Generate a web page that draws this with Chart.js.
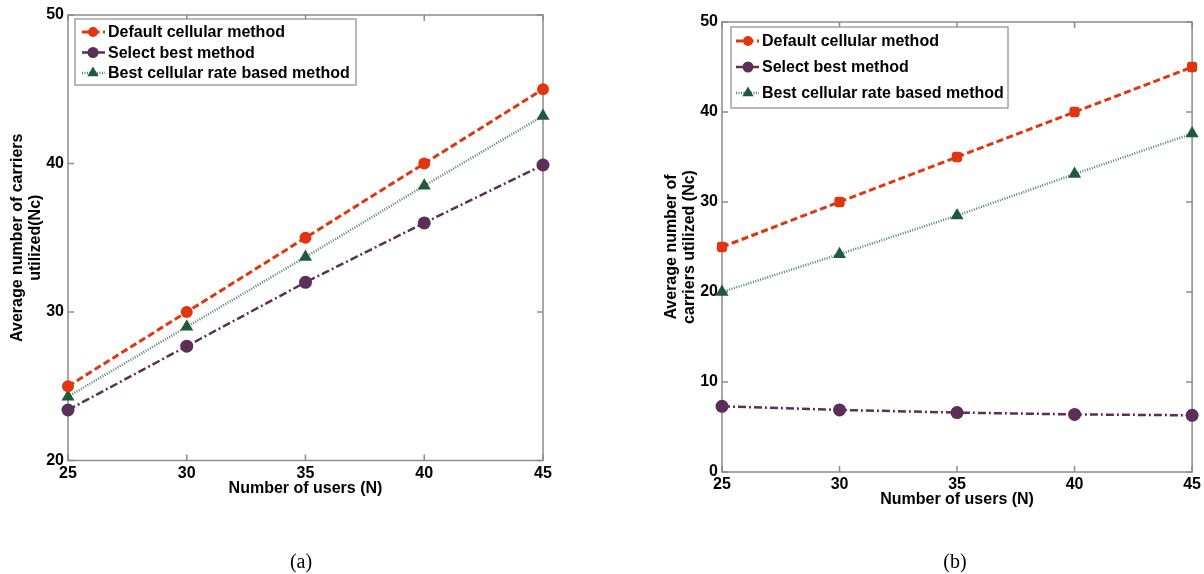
<!DOCTYPE html>
<html>
<head>
<meta charset="utf-8">
<script src="https://cdn.jsdelivr.net/npm/chart.js@4.4.0/dist/chart.umd.min.js"></script>
<style>
    body { margin: 0; background: #fff; width: 1204px; height: 574px; position: relative; overflow: hidden; }
    .panel { position: absolute; top: 0; height: 574px; }
    .caption { position: absolute; top: 549px; width: 100px; text-align: center; line-height: 24px; font-family: "Liberation Serif", "Times New Roman", serif; font-size: 20px; color: #000; }
</style>
</head>
<body>
<div class="panel" style="left:0;width:600px"><canvas id="chartA"></canvas></div>
<div class="panel" style="left:602px;width:602px"><canvas id="chartB"></canvas></div>
<div class="caption" style="left:251px">(a)</div>
<div class="caption" style="left:905px">(b)</div>
<script>
// Data
const users = [25, 30, 35, 40, 45];
const seriesNames = ['Default cellular method', 'Select best method', 'Best cellular rate based method'];
const defaultA = [25, 30, 35, 40, 45];
const selectBestA = [23.4, 27.7, 32.0, 36.0, 39.9];
const bestRateA = [24.3, 29.0, 33.7, 38.5, 43.2];
const defaultB = [25, 30, 35, 40, 45];
const selectBestB = [7.3, 6.9, 6.6, 6.4, 6.3];
const bestRateB = [20.0, 24.2, 28.5, 33.1, 37.6];
const yRangeA = [20, 50];
const yRangeB = [0, 50];

const FONT = '"Liberation Sans", Arial, sans-serif';
const FSIZE = 16;

const toPoints = vals => vals.map((v, i) => ({ x: users[i], y: v }));

function buildDatasets(def, sel, best, redStyle) {
    return [
        {
            label: seriesNames[0], data: toPoints(def),
            borderColor: '#e0350f', backgroundColor: '#e0350f', borderWidth: 3, borderDash: [7, 3.5],
            pointStyle: redStyle, pointRadius: 6, pointBorderWidth: 0
        },
        {
            label: seriesNames[1], data: toPoints(sel),
            borderColor: '#5c2f58', backgroundColor: '#5c2f58', borderWidth: 2.5, borderDash: [8, 3, 2, 3],
            pointStyle: 'circle', pointRadius: 6.5, pointBorderWidth: 0
        },
        {
            label: seriesNames[2], data: toPoints(best),
            borderColor: '#52836d', backgroundColor: '#1f5a3c', borderWidth: 2.5, borderDash: [1, 1.5],
            pointStyle: 'triangle', pointRadius: 7.5, pointBorderWidth: 0
        }
    ];
}

// box round the plot with inward ticks on all four sides
const framePlugin = {
    id: 'frame',
    beforeDatasetsDraw(chart) {
        const { ctx, chartArea: a, scales: { x, y } } = chart;
        ctx.save();
        ctx.strokeStyle = '#8c8c8c';
        ctx.lineWidth = 1.5;
        ctx.strokeRect(a.left, a.top, a.right - a.left, a.bottom - a.top);
        ctx.beginPath();
        x.ticks.forEach(t => {
            const px = x.getPixelForValue(t.value);
            ctx.moveTo(px, a.top); ctx.lineTo(px, a.top + 6);
            ctx.moveTo(px, a.bottom); ctx.lineTo(px, a.bottom - 6);
        });
        y.ticks.forEach(t => {
            const py = y.getPixelForValue(t.value);
            ctx.moveTo(a.left, py); ctx.lineTo(a.left + 6, py);
            ctx.moveTo(a.right, py); ctx.lineTo(a.right - 6, py);
        });
        ctx.stroke();
        ctx.restore();
    }
};

// legend drawn inside the plot, top left
const boxLegendPlugin = {
    id: 'boxLegend',
    afterDatasetsDraw(chart, args, opts) {
        const { ctx, chartArea: a } = chart;
        const bx = a.left + opts.dx, by = a.top + opts.dy;
        ctx.save();
        ctx.fillStyle = '#fff';
        ctx.fillRect(bx, by, opts.w, opts.h);
        ctx.strokeStyle = '#8c8c8c';
        ctx.lineWidth = 1.2;
        ctx.strokeRect(bx, by, opts.w, opts.h);
        chart.data.datasets.forEach((ds, i) => {
            const ry = by + opts.first + i * opts.step;
            ctx.strokeStyle = ds.borderColor;
            ctx.lineWidth = ds.borderWidth;
            ctx.setLineDash(ds.borderDash);
            ctx.beginPath();
            ctx.moveTo(bx + opts.s0, ry);
            ctx.lineTo(bx + opts.s1, ry);
            ctx.stroke();
            ctx.setLineDash([]);
            ctx.fillStyle = ds.backgroundColor;
            ctx.strokeStyle = ds.backgroundColor;
            Chart.helpers.drawPoint(ctx, { pointStyle: ds.pointStyle === 'rectRounded' ? 'circle' : ds.pointStyle, radius: ds.pointRadius - 1, rotation: 0, borderWidth: 0 }, bx + opts.mx, ry);
            ctx.fillStyle = '#000';
            ctx.font = 'bold ' + FSIZE + 'px ' + FONT;
            ctx.textBaseline = 'middle';
            ctx.textAlign = 'left';
            ctx.fillText(ds.label, bx + opts.tx, ry + 1);
        });
        ctx.restore();
    }
};

function makeChart(id, cfg) {
    return new Chart(document.getElementById(id), {
        type: 'line',
        data: { datasets: buildDatasets(cfg.def, cfg.sel, cfg.best, cfg.redStyle) },
        plugins: [framePlugin, boxLegendPlugin],
        options: {
            responsive: true,
            maintainAspectRatio: false,
            animation: false,
            layout: { padding: cfg.padding },
            elements: { line: { tension: 0 } },
            datasets: { line: { clip: false } },
            plugins: {
                legend: { display: false },
                tooltip: { enabled: false },
                boxLegend: cfg.legend
            },
            scales: {
                x: {
                    type: 'linear', min: 25, max: 45,
                    grid: { display: false, drawTicks: false },
                    border: { display: false },
                    ticks: { stepSize: 5, padding: 3, color: '#000', font: { family: FONT, size: FSIZE, weight: 'bold' }, maxRotation: 0 },
                    title: { display: true, text: 'Number of users (N)', color: '#000', padding: { top: 0, bottom: 3 }, font: { family: FONT, size: FSIZE, weight: 'bold', lineHeight: 1.15 } },
                    afterFit: s => { s.height = cfg.xHeight; }
                },
                y: {
                    min: cfg.yRange[0], max: cfg.yRange[1],
                    grid: { display: false, drawTicks: false },
                    border: { display: false },
                    ticks: { stepSize: 10, padding: 4, color: '#000', font: { family: FONT, size: FSIZE, weight: 'bold' } },
                    title: { display: true, text: cfg.yTitle, color: '#000', padding: { top: cfg.yTitlePad, bottom: 0 }, font: { family: FONT, size: FSIZE, weight: 'bold', lineHeight: cfg.yTitleLH } },
                    afterFit: s => { s.width = cfg.yWidth; }
                }
            }
        }
    });
}

makeChart('chartA', {
    def: defaultA, sel: selectBestA, best: bestRateA, redStyle: 'circle',
    yRange: yRangeA,
    yTitle: ['Average number of carriers', 'utilized(Nc)'],
    yTitlePad: 9, yTitleLH: 1.125,
    yWidth: 68, xHeight: 40,
    padding: { left: 0, right: 57, top: 15, bottom: 73.5 },
    legend: { dx: 7, dy: 4, w: 281, h: 66, first: 13, step: 20.5, s0: 7, s1: 30, mx: 18, tx: 33 }
});

makeChart('chartB', {
    def: defaultB, sel: selectBestB, best: bestRateB, redStyle: 'rectRounded',
    yRange: yRangeB,
    yTitle: ['Average number of', 'carriers utilized (Nc)'],
    yTitlePad: 60, yTitleLH: 1.17,
    yWidth: 120, xHeight: 40,
    padding: { left: 0, right: 10.7, top: 22, bottom: 62 },
    legend: { dx: 9, dy: 5, w: 277, h: 81, first: 14, step: 26, s0: 5, s1: 28, mx: 17, tx: 31 }
});
</script>
</body>
</html>
